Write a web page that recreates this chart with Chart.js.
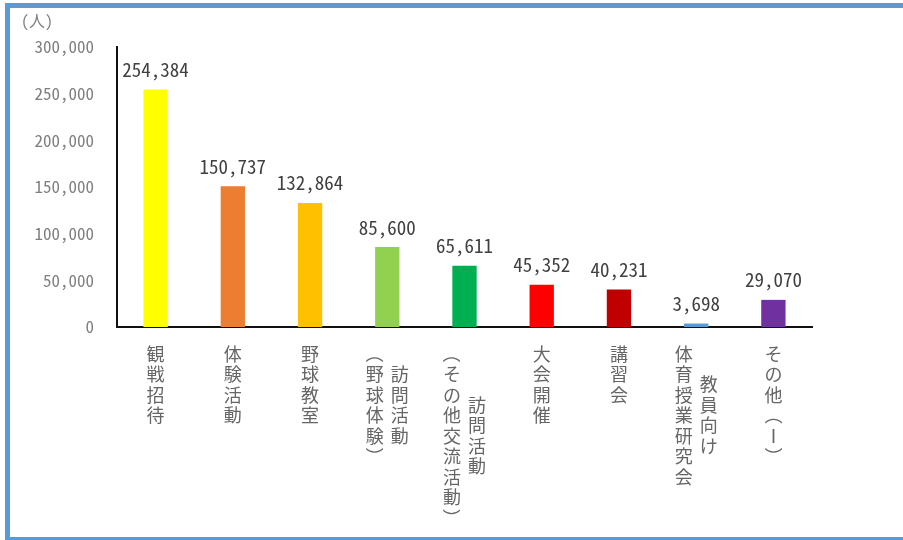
<!DOCTYPE html>
<html>
<head>
<meta charset="utf-8">
<script src="https://cdn.jsdelivr.net/npm/chart.js@4.4.1/dist/chart.umd.min.js"></script>
<style>
  html, body { margin: 0; padding: 0; background: #ffffff; overflow: hidden; }
  #wrap { position: absolute; left: 0; top: 0; width: 903px; height: 540px; overflow: hidden; }
  #frame { position: absolute; left: 5px; top: 3px; width: 930px; height: 529px; border: 5px solid #5B9BD5; border-right: none; pointer-events: none; }
  canvas { position: absolute; left: 0; top: 0; }
</style>
</head>
<body>
<div id="wrap">
  <canvas id="c" width="903" height="540"></canvas>
  <div id="frame"></div>
</div>
<script>
// ---- data ----
const categories = ["観戦招待", "体験活動", "野球教室", "訪問活動（野球体験）", "訪問活動（その他交流活動）", "大会開催", "講習会", "教員向け体育授業研究会", "その他（Ⅰ）"];
const labelColumns = [["観戦招待"], ["体験活動"], ["野球教室"], ["訪問活動", "（野球体験）"], ["訪問活動", "（その他交流活動）"], ["大会開催"], ["講習会"], ["教員向け", "体育授業研究会"], ["その他（Ⅰ）"]];
const values = [254384, 150737, 132864, 85600, 65611, 45352, 40231, 3698, 29070];
const barColors = ["#FFFF00", "#ED7D31", "#FFC000", "#92D050", "#00B050", "#FF0000", "#C00000", "#5B9BD5", "#7030A0"];
const yTickValues = [0, 50000, 100000, 150000, 200000, 250000, 300000];
const unitLabel = "(人)";

const monoFont = '"Noto Sans Mono CJK JP", "DejaVu Sans Mono", monospace';
const cjkFont = '"Noto Sans CJK JP", "Noto Sans", sans-serif';
const fmt = v => v.toLocaleString('en-US');

const valueLabels = {
  id: 'valueLabels',
  afterDatasetsDraw(chart) {
    const ctx = chart.ctx;
    const meta = chart.getDatasetMeta(0);
    ctx.save();
    ctx.font = '19px ' + monoFont;
    ctx.fillStyle = '#404040';
    ctx.textAlign = 'center';
    ctx.textBaseline = 'alphabetic';
    meta.data.forEach((bar, i) => {
      ctx.fillText(fmt(values[i]), bar.x, bar.y - 12.5);
    });
    ctx.restore();
  }
};

const verticalLabels = {
  id: 'verticalLabels',
  afterDraw(chart) {
    const ctx = chart.ctx;
    const xs = chart.scales.x;
    const top = chart.chartArea.bottom + 16.5;
    const pitch = 20.5, colGap = 25;
    ctx.save();
    ctx.font = '18px ' + cjkFont;
    ctx.fillStyle = '#666666';
    ctx.textAlign = 'center';
    ctx.textBaseline = 'middle';
    labelColumns.forEach((cols, i) => {
      const cx = xs.getPixelForValue(i);
      const n = cols.length;
      const maxLen = Math.max(...cols.map(c => [...c].length));
      cols.forEach((col, j) => {
        const chars = [...col];
        const x = cx + ((n - 1) / 2 - j) * colGap;
        const y0 = top + (maxLen - chars.length) / 2 * pitch;
        chars.forEach((ch, k) => {
          const y = y0 + k * pitch + pitch / 2;
          if (ch === '（' || ch === '）') {
            ctx.save();
            ctx.translate(x, y);
            ctx.rotate(Math.PI / 2);
            ctx.fillText(ch, 0, 0);
            ctx.restore();
          } else {
            ctx.fillText(ch, x, y);
          }
        });
      });
    });
    ctx.font = '16px ' + monoFont;
    ctx.fillStyle = '#7f7f7f';
    ctx.textAlign = 'left';
    ctx.textBaseline = 'middle';
    ctx.fillText(unitLabel, 21, 21);
    ctx.restore();
  }
};

new Chart(document.getElementById('c'), {
  type: 'bar',
  data: {
    labels: categories,
    datasets: [{
      data: values,
      backgroundColor: barColors,
      borderWidth: 0,
      barPercentage: 0.315,
      categoryPercentage: 1
    }]
  },
  options: {
    responsive: false,
    animation: false,
    devicePixelRatio: 1,
    layout: { padding: { left: 0, top: 47, right: 91, bottom: 0 } },
    plugins: { legend: { display: false }, tooltip: { enabled: false } },
    scales: {
      x: {
        grid: { display: false, drawTicks: false },
        border: { display: true, color: '#111111', width: 2 },
        ticks: { display: false },
        afterFit: s => { s.height = 213; }
      },
      y: {
        min: 0,
        max: 300000,
        afterBuildTicks: s => { s.ticks = yTickValues.map(v => ({ value: v })); },
        grid: { display: false, drawTicks: false },
        border: { display: true, color: '#111111', width: 2 },
        ticks: {
          padding: 23,
          color: '#7f7f7f',
          font: { family: monoFont, size: 17 },
          callback: v => fmt(v)
        },
        afterFit: s => { s.width = 117; }
      }
    }
  },
  plugins: [valueLabels, verticalLabels]
});
</script>
</body>
</html>
